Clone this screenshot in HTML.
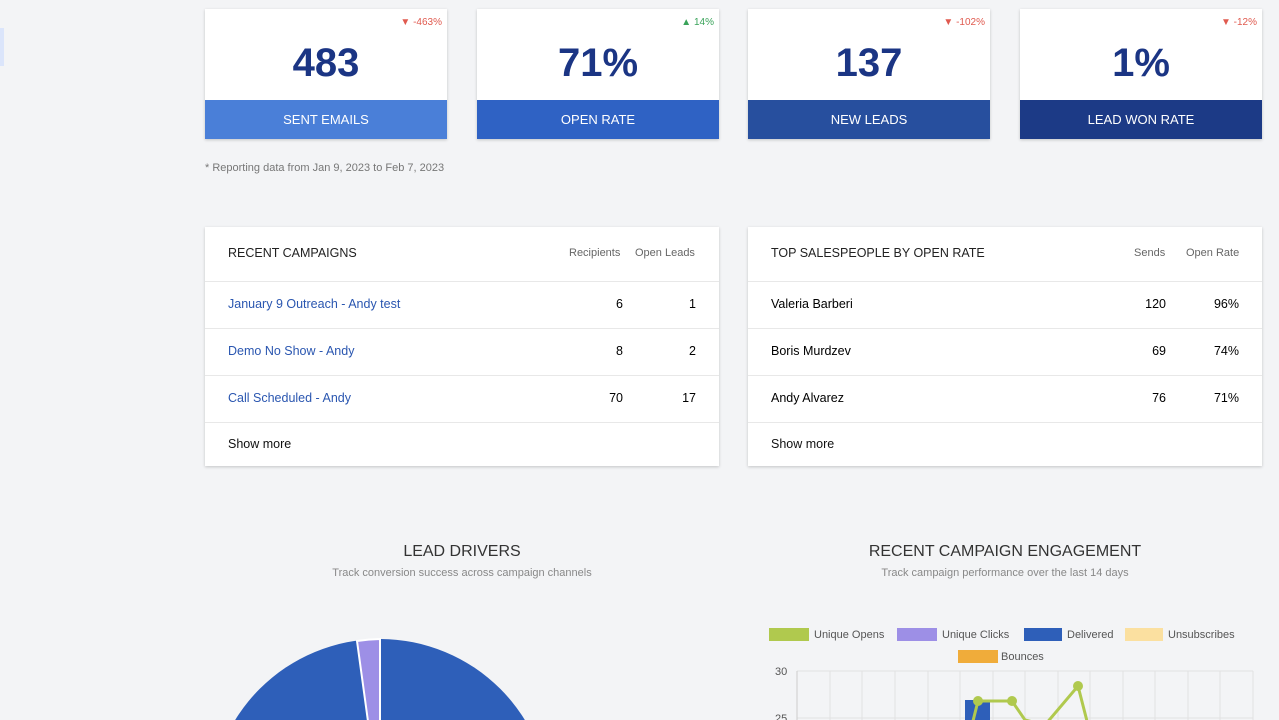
<!DOCTYPE html>
<html><head><meta charset="utf-8"><style>
*{margin:0;padding:0;box-sizing:border-box}
body{width:1279px;height:720px;overflow:hidden;background:#f3f4f6;font-family:"Liberation Sans",Arial,sans-serif;position:relative}
.a{position:absolute}
.card{position:absolute;top:9px;width:242px;height:130px;background:#fff;box-shadow:0 1px 3px rgba(0,0,0,.2)}
.card .num{position:absolute;top:32px;width:100%;text-align:center;font-size:40px;font-weight:bold;color:#1b3584}
.card .band{position:absolute;top:91px;height:39px;width:100%;color:#fff;text-align:center;line-height:39px;font-size:13px}
.card .ch{position:absolute;top:8px;right:5px;font-size:10px}
.tbl{position:absolute;top:227px;width:514px;height:239px;background:#fff;box-shadow:0 1px 3px rgba(0,0,0,.2);font-size:12.5px}
.row{position:absolute;left:0;width:100%;border-top:1px solid #e8e8e8}
.row span{position:absolute}
</style></head><body>
<div class="a" style="left:0;top:28px;width:4px;height:38px;background:#dbe5fb"></div>

<div class="card" style="left:205px"><div class="ch" style="color:#e05a4f">▼ -463%</div><div class="num">483</div><div class="band" style="background:#4a7fd8">SENT EMAILS</div></div>
<div class="card" style="left:477px"><div class="ch" style="color:#3aa35a">▲ 14%</div><div class="num">71%</div><div class="band" style="background:#2f62c4">OPEN RATE</div></div>
<div class="card" style="left:748px"><div class="ch" style="color:#e05a4f">▼ -102%</div><div class="num">137</div><div class="band" style="background:#274f9e">NEW LEADS</div></div>
<div class="card" style="left:1020px"><div class="ch" style="color:#e05a4f">▼ -12%</div><div class="num">1%</div><div class="band" style="background:#1c3a86">LEAD WON RATE</div></div>

<div class="a" style="left:205px;top:162px;font-size:11px;color:#777">* Reporting data from Jan 9, 2023 to Feb 7, 2023</div>

<div class="tbl" style="left:205px">
<div class="a" style="left:23px;top:19px;color:#222">RECENT CAMPAIGNS</div>
<div class="a" style="left:364px;top:20px;font-size:11px;color:#666">Recipients</div>
<div class="a" style="left:430px;top:20px;font-size:11px;color:#666">Open Leads</div>
<div class="row" style="top:54px;height:47px"><span style="left:23px;top:15px;color:#2a56b0">January 9 Outreach - Andy test</span><span style="right:96px;top:15px">6</span><span style="right:23px;top:15px">1</span></div>
<div class="row" style="top:101px;height:47px"><span style="left:23px;top:15px;color:#2a56b0">Demo No Show - Andy</span><span style="right:96px;top:15px">8</span><span style="right:23px;top:15px">2</span></div>
<div class="row" style="top:148px;height:47px"><span style="left:23px;top:15px;color:#2a56b0">Call Scheduled - Andy</span><span style="right:96px;top:15px">70</span><span style="right:23px;top:15px">17</span></div>
<div class="row" style="top:195px;height:44px"><span style="left:23px;top:14px;color:#111">Show more</span></div>
</div>

<div class="tbl" style="left:748px">
<div class="a" style="left:23px;top:19px;color:#222">TOP SALESPEOPLE BY OPEN RATE</div>
<div class="a" style="left:386px;top:20px;font-size:11px;color:#666">Sends</div>
<div class="a" style="left:438px;top:20px;font-size:11px;color:#666">Open Rate</div>
<div class="row" style="top:54px;height:47px"><span style="left:23px;top:15px">Valeria Barberi</span><span style="right:96px;top:15px">120</span><span style="right:23px;top:15px">96%</span></div>
<div class="row" style="top:101px;height:47px"><span style="left:23px;top:15px">Boris Murdzev</span><span style="right:96px;top:15px">69</span><span style="right:23px;top:15px">74%</span></div>
<div class="row" style="top:148px;height:47px"><span style="left:23px;top:15px">Andy Alvarez</span><span style="right:96px;top:15px">76</span><span style="right:23px;top:15px">71%</span></div>
<div class="row" style="top:195px;height:44px"><span style="left:23px;top:14px;color:#111">Show more</span></div>
</div>

<div class="a" style="left:205px;width:514px;top:543px;text-align:center;font-size:16px;color:#333">LEAD DRIVERS</div>
<div class="a" style="left:205px;width:514px;top:567px;text-align:center;font-size:11px;color:#888">Track conversion success across campaign channels</div>
<div class="a" style="left:748px;width:514px;top:543px;text-align:center;font-size:16px;color:#333">RECENT CAMPAIGN ENGAGEMENT</div>
<div class="a" style="left:748px;width:514px;top:567px;text-align:center;font-size:11px;color:#888">Track campaign performance over the last 14 days</div>

<svg class="a" style="left:0;top:0" width="1279" height="720">
<circle cx="380" cy="809" r="170" fill="#2e5fb9"/>
<path d="M380 809 L380 639 A170 170 0 0 0 357 641 Z" fill="#9d8fe6" stroke="#fff" stroke-width="2"/>
<g font-size="11" fill="#555" font-family="Liberation Sans,sans-serif">
<rect x="769" y="628" width="40" height="13" fill="#b0c94e"/><text x="814" y="638">Unique Opens</text>
<rect x="897" y="628" width="40" height="13" fill="#9d8fe6"/><text x="942" y="638">Unique Clicks</text>
<rect x="1024" y="628" width="38" height="13" fill="#2e5fb9"/><text x="1067" y="638">Delivered</text>
<rect x="1125" y="628" width="38" height="13" fill="#fbe0a0"/><text x="1168" y="638">Unsubscribes</text>
<rect x="958" y="650" width="40" height="13" fill="#f0ac3a"/><text x="1001" y="660">Bounces</text>
<text x="775" y="675">30</text><text x="775" y="722">25</text>
</g>
<g stroke="#e2e2e2" stroke-width="1">
<line x1="797" y1="671" x2="1253" y2="671"/>
<line x1="797" y1="718" x2="1253" y2="718"/>
<line x1="797" y1="671" x2="797" y2="720" stroke="#ccc"/>
<line x1="830" y1="671" x2="830" y2="720"/><line x1="862" y1="671" x2="862" y2="720"/><line x1="895" y1="671" x2="895" y2="720"/><line x1="928" y1="671" x2="928" y2="720"/><line x1="960" y1="671" x2="960" y2="720"/><line x1="993" y1="671" x2="993" y2="720"/><line x1="1025" y1="671" x2="1025" y2="720"/><line x1="1058" y1="671" x2="1058" y2="720"/><line x1="1090" y1="671" x2="1090" y2="720"/><line x1="1123" y1="671" x2="1123" y2="720"/><line x1="1155" y1="671" x2="1155" y2="720"/><line x1="1188" y1="671" x2="1188" y2="720"/><line x1="1220" y1="671" x2="1220" y2="720"/><line x1="1253" y1="671" x2="1253" y2="720"/>
</g>
<rect x="965" y="700" width="25" height="20" fill="#2e5fb9"/>
<polyline points="972,725 978,701 1012,701 1025,720 1045,725 1078,686 1088,725" fill="none" stroke="#b0c94e" stroke-width="3"/>
<circle cx="978" cy="701" r="5" fill="#b0c94e"/><circle cx="1012" cy="701" r="5" fill="#b0c94e"/><circle cx="1078" cy="686" r="5" fill="#b0c94e"/>
</svg>
</body></html>
